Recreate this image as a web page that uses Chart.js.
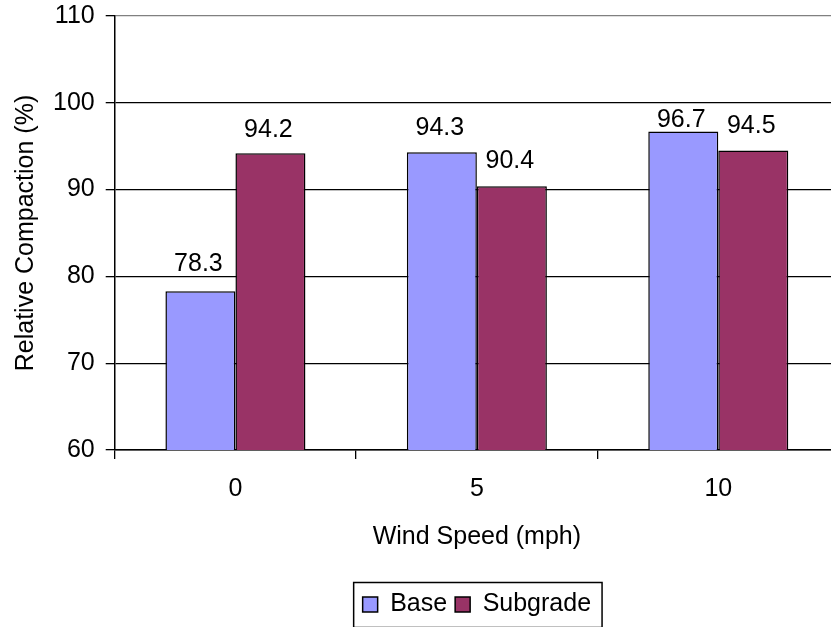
<!DOCTYPE html>
<html>
<head>
<meta charset="utf-8">
<script src="https://cdn.jsdelivr.net/npm/chart.js@4/dist/chart.umd.min.js"></script>
<style>
html, body { margin: 0; padding: 0; background: #ffffff; overflow: hidden; }
#wrap { width: 840px; height: 627px; }
</style>
</head>
<body>
<div id="wrap"><canvas id="c" width="840" height="627"></canvas></div>
<script>
const categories = ['0', '5', '10'];
const baseValues = [78.3, 94.3, 96.7];
const subgradeValues = [94.2, 90.4, 94.5];
const seriesNames = ['Base', 'Subgrade'];
const yTicks = [60, 70, 80, 90, 100, 110];
const xTitle = 'Wind Speed (mph)';
const yTitle = 'Relative Compaction (%)';

const FONT = '"Liberation Sans", Arial, sans-serif';

const labelPlugin = {
  id: 'valueLabels',
  afterDatasetsDraw(chart, args, opts) {
    const ctx = chart.ctx;
    ctx.save();
    ctx.font = '25px ' + FONT;
    ctx.fillStyle = '#000';
    ctx.textAlign = 'center';
    ctx.textBaseline = 'alphabetic';
    chart.data.datasets.forEach((ds, di) => {
      const meta = chart.getDatasetMeta(di);
      meta.data.forEach((bar, i) => {
        const gap = opts.gaps[di][i];
        ctx.fillText(ds.data[i].toFixed(1), bar.x - 2, bar.y - gap);
      });
    });
    ctx.restore();
  }
};

const legendBorder = {
  id: 'legendBorder',
  afterDraw(chart) {
    const lg = chart.legend;
    if (!lg || !lg.legendHitBoxes || !lg.legendHitBoxes.length) return;
    const hb = lg.legendHitBoxes;
    let l = Infinity, r = -Infinity, t = Infinity, b = -Infinity;
    hb.forEach(h => {
      l = Math.min(l, h.left); r = Math.max(r, h.left + h.width);
      t = Math.min(t, h.top); b = Math.max(b, h.top + h.height);
    });
    const cy = (t + b) / 2;
    const ctx = chart.ctx;
    ctx.save();
    ctx.strokeStyle = '#000';
    ctx.lineWidth = 1.5;
    ctx.strokeRect(l - 9, cy - 22, (r - l) + 20, 45);
    ctx.restore();
  }
};

new Chart(document.getElementById('c'), {
  type: 'bar',
  data: {
    labels: categories,
    datasets: [
      { label: seriesNames[0], data: baseValues, backgroundColor: '#9999FF', borderColor: '#000', borderWidth: 1.5, borderSkipped: false },
      { label: seriesNames[1], data: subgradeValues, backgroundColor: '#993366', borderColor: '#000', borderWidth: 1.5, borderSkipped: false }
    ]
  },
  options: {
    responsive: false,
    animation: false,
    devicePixelRatio: 1,
    categoryPercentage: 0.58,
    barPercentage: 1.0,
    layout: { padding: { top: 16, left: 0, right: 1, bottom: 0 } },
    plugins: {
      tooltip: { enabled: false },
      valueLabels: { gaps: [[20, 17, 4], [16, 18, 18]] },
      legend: {
        position: 'bottom',
        fullSize: false,
        labels: {
          font: { family: FONT, size: 25 },
          color: '#000',
          boxWidth: 15,
          boxHeight: 15,
          padding: 8,
          generateLabels(chart) {
            return chart.data.datasets.map((ds, i) => ({
              text: ds.label,
              fillStyle: ds.backgroundColor,
              strokeStyle: '#000',
              lineWidth: 1.5,
              hidden: false,
              datasetIndex: i
            }));
          }
        }
      }
    },
    scales: {
      x: {
        grid: { drawOnChartArea: false, drawTicks: true, tickLength: 9, color: '#000', lineWidth: 1.3, offset: true },
        border: { color: '#000', width: 1.5 },
        ticks: { font: { family: FONT, size: 25 }, color: '#000', padding: 15 },
        title: { display: true, text: xTitle, font: { family: FONT, size: 25 }, color: '#000', padding: { top: 3, bottom: 32 } }
      },
      y: {
        min: 60,
        max: 110,
        afterBuildTicks(scale) { scale.ticks = yTicks.map(v => ({ value: v })); },
        afterFit(scale) { scale.paddingTop = 0; scale.paddingBottom = 0; },
        grid: {
          color: ctx => (ctx.tick && ctx.tick.value === 110) ? '#808080' : '#000',
          tickColor: '#000',
          lineWidth: 1.3,
          tickLength: 9,
          drawTicks: true
        },
        border: { color: '#000', width: 1.5 },
        ticks: { font: { family: FONT, size: 25 }, color: '#000', padding: 11 },
        title: { display: true, text: yTitle, font: { family: FONT, size: 25 }, color: '#000', padding: { top: 11, bottom: 1 } }
      }
    }
  },
  plugins: [labelPlugin, legendBorder]
});
</script>
</body>
</html>
